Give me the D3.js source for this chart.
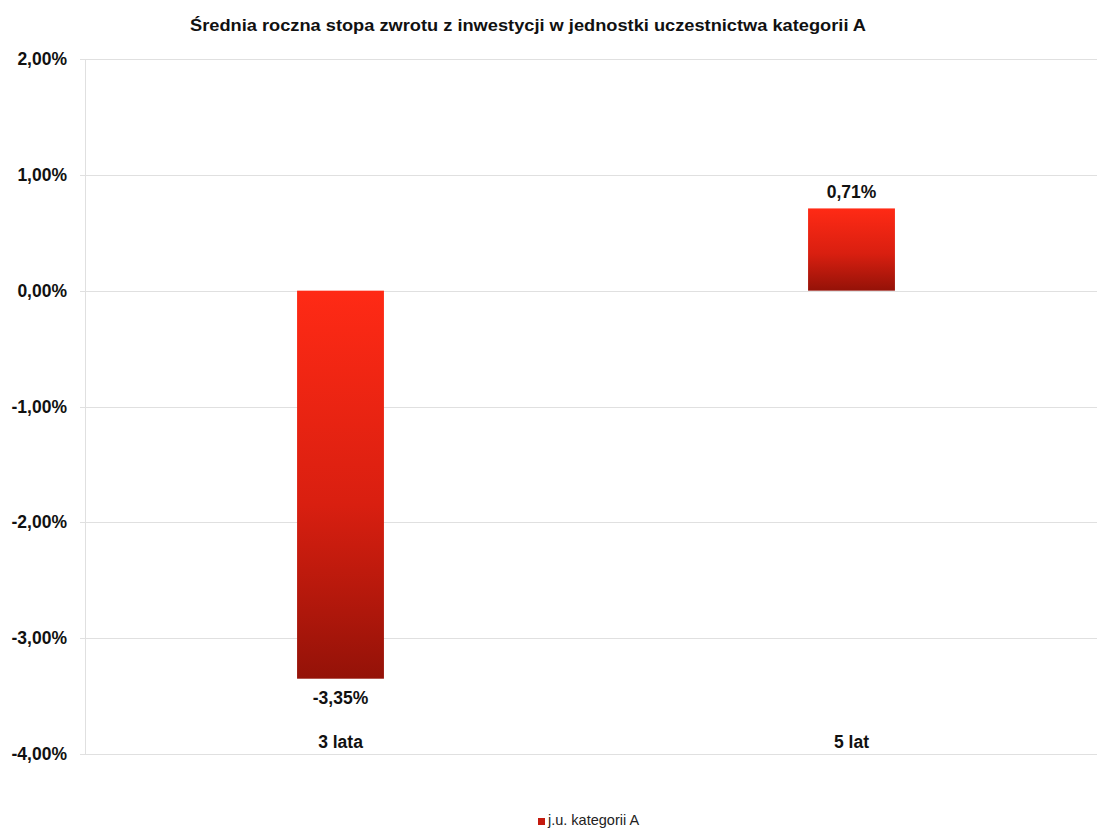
<!DOCTYPE html>
<html><head><meta charset="utf-8">
<script src="https://cdn.jsdelivr.net/npm/d3@7"></script>
<style>body{margin:0;background:#fff;} text{font-family:"Liberation Sans",Arial,sans-serif;}</style>
</head><body>
<svg id="c" width="1097" height="829"></svg>
<script>
const title = "Średnia roczna stopa zwrotu z inwestycji  w jednostki uczestnictwa kategorii A";
const categories = ["3 lata", "5 lat"];
const values = [-3.35, 0.71];
const valueLabels = ["-3,35%", "0,71%"];
const yTicks = [2, 1, 0, -1, -2, -3, -4];
const seriesName = "j.u. kategorii A";

const svg = d3.select("#c");
const y = d3.scaleLinear().domain([-4, 2]).range([754, 59]);
const x = d3.scaleBand().domain(categories).range([85, 1107]).paddingInner(0.83).paddingOuter(0.415);

const defs = svg.append("defs");
const g = defs.append("linearGradient").attr("id","grad").attr("x1",0).attr("y1",0).attr("x2",0).attr("y2",1);
g.append("stop").attr("offset","0%").attr("stop-color","#ff2a15");
g.append("stop").attr("offset","55%").attr("stop-color","#d91f10");
g.append("stop").attr("offset","100%").attr("stop-color","#941208");

// title
svg.append("text").attr("x", 528).attr("y", 31).attr("text-anchor","middle")
  .style("font-size","17px").style("font-weight","bold").attr("fill","#111")
  .attr("textLength", 676).attr("lengthAdjust","spacingAndGlyphs").text(title);

// gridlines
svg.append("g").selectAll("line").data(yTicks).join("line")
  .attr("x1", 80).attr("x2", 1097).attr("y1", d=>Math.round(y(d))+0.5).attr("y2", d=>Math.round(y(d))+0.5)
  .attr("stroke","#e0e0e0").attr("stroke-width",1);
// y axis line
svg.append("line").attr("x1",85.5).attr("x2",85.5).attr("y1",y(2)).attr("y2",y(-4)).attr("stroke","#e0e0e0");

// y labels
const fmt = d => d3.format(".2f")(d).replace(".", ",").replace("−","-") + "%";
svg.append("g").selectAll("text").data(yTicks).join("text")
  .attr("x", 67).attr("y", d=>y(d)+6).attr("text-anchor","end")
  .style("font-size","17.5px").style("font-weight","bold").attr("fill","#111")
  .text(fmt);

// bars
svg.append("g").selectAll("rect").data(values).join("rect")
  .attr("x", (d,i)=>x(categories[i])).attr("width", x.bandwidth())
  .attr("y", d=>y(Math.max(0,d))).attr("height", d=>Math.abs(y(d)-y(0)))
  .attr("fill","url(#grad)");

// value labels
svg.append("g").selectAll("text").data(values).join("text")
  .attr("x", (d,i)=>x(categories[i])+x.bandwidth()/2)
  .attr("y", d=> d<0 ? y(d)+25 : y(d)-10)
  .attr("text-anchor","middle").style("font-size","17.5px").style("font-weight","bold").attr("fill","#111")
  .text((d,i)=>valueLabels[i]);

// category labels
svg.append("g").selectAll("text").data(categories).join("text")
  .attr("x", d=>x(d)+x.bandwidth()/2).attr("y", 748)
  .attr("text-anchor","middle").style("font-size","17.5px").style("font-weight","bold").attr("fill","#111")
  .text(d=>d);

// legend
svg.append("rect").attr("x",538).attr("y",818).attr("width",7).attr("height",7).attr("fill","#c41a0e");
svg.append("text").attr("x",548).attr("y",825).style("font-size","14.5px").attr("fill","#222").text(seriesName);
</script>
</body></html>
